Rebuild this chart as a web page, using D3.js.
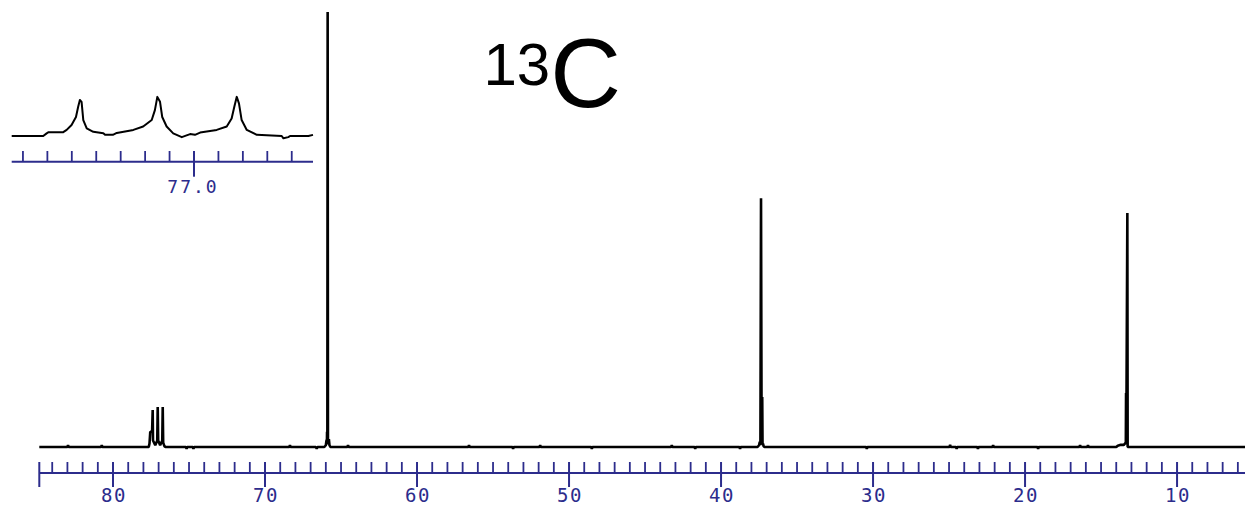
<!DOCTYPE html>
<html>
<head>
<meta charset="utf-8">
<script src="https://cdn.jsdelivr.net/npm/d3@7"></script>
<style>
  html, body { margin: 0; padding: 0; background: #fff; }
  svg { display: block; }
</style>
</head>
<body>
<svg id="chart" width="1245" height="508"></svg>
<script>
// ---------- DATA ----------
// main spectrum: [ppm, relative intensity (0 = baseline, 100 = tallest peak)]
const spectrumPpm = [84.85,
  83.0, 82.96, 82.92, 80.78, 80.74, 80.70,
  77.65, 77.6, 77.55, 77.43, 77.39, 77.37, 77.22, 77.09, 77.06, 77.03, 76.9, 76.76, 76.73, 76.7, 76.62, 76.55,
  75.2, 75.16, 75.12, 74.75, 74.71, 74.67,
  68.4, 68.36, 68.32, 66.65, 66.6, 66.55,
  66.1, 66.0, 65.95, 65.93, 65.92, 65.9, 65.88, 65.86, 65.8, 65.76, 65.7,
  64.58, 64.54, 64.5, 56.62, 56.58, 56.54, 53.72, 53.68, 53.64, 51.94, 51.9, 51.86,
  48.54, 48.5, 48.46, 43.28, 43.24, 43.2, 41.74, 41.7, 41.66, 38.79, 38.75, 38.71,
  37.6, 37.5, 37.45, 37.41, 37.37, 37.33, 37.29, 37.27, 37.24, 37.2, 37.15,
  30.45, 30.41, 30.37, 24.97, 24.93, 24.89, 24.54, 24.5, 24.46, 23.14, 23.1, 23.06,
  22.14, 22.1, 22.06, 19.18, 19.14, 19.1, 16.42, 16.38, 16.34, 15.9, 15.86, 15.82,
  14.0, 13.9, 13.7, 13.5, 13.4, 13.37, 13.355, 13.34, 13.27, 13.25, 13.1,
  5.53];
const spectrumInt = [0,
  0, 0.4, 0, 0, 0.4, 0,
  0, 0.8, 3.5, 3.5, 8.5, 1.5, 0.4, 1.5, 9.2, 1.5, 0.4, 1.5, 9.2, 1.0, 0.2, 0,
  0, -0.4, 0, 0, -0.4, 0,
  0, 0.4, 0, 0, -0.4, 0,
  0, 0.4, 1.6, 0.6, 3.5, 0.8, 100, 1.8, 1.8, 0.4, 0,
  0, 0.4, 0, 0, 0.4, 0, 0, -0.4, 0, 0, 0.4, 0,
  0, -0.4, 0, 0, 0.4, 0, 0, -0.4, 0, 0, -0.4, 0,
  0, 0.4, 1.2, 0.4, 57.2, 0.6, 11.5, 0.6, 0.8, 0.2, 0,
  0, -0.4, 0, 0, 0.5, 0, 0, -0.4, 0, 0, -0.4, 0,
  0, 0.4, 0, 0, -0.4, 0, 0, 0.4, 0, 0, 0.4, 0,
  0, 0.3, 0.5, 0.5, 0.9, 1.1, 12.4, 0.6, 53.8, 0, 0,
  0];

// inset (CDCl3 triplet expansion): [ppm, relative intensity 0..1]
const insetPpm = [77.746, 77.617, 77.603, 77.595, 77.535, 77.521, 77.501, 77.483, 77.474, 77.467, 77.460, 77.453,
  77.439, 77.412, 77.371, 77.364, 77.332, 77.316, 77.248, 77.208, 77.173, 77.160, 77.150, 77.139,
  77.130, 77.112, 77.085, 77.050, 77.016, 76.996, 76.975, 76.907, 76.866, 76.846, 76.835, 76.825,
  76.816, 76.805, 76.784, 76.743, 76.641, 76.634, 76.614, 76.607, 76.532, 76.513];
const insetInt = [0, 0, 0.07, 0.1, 0.1, 0.16, 0.29, 0.5, 0.77, 0.95, 0.9, 0.42,
  0.2, 0.11, 0.07, 0.03, 0.03, 0.08, 0.16, 0.25, 0.42, 0.68, 1.03, 0.9,
  0.5, 0.25, 0.07, -0.03, 0.05, 0.03, 0.09, 0.16, 0.25, 0.46, 0.77, 1.03,
  0.86, 0.42, 0.16, 0.03, 0, -0.06, -0.03, 0, 0, 0.03];

// axis ticks
const mainMajorTicks = [80, 70, 60, 50, 40, 30, 20, 10];
const mainMinorTicks = [84, 83, 82, 81, 79, 78, 77, 76, 75, 74, 73, 72, 71, 69, 68, 67, 66, 65, 64, 63, 62, 61,
  59, 58, 57, 56, 55, 54, 53, 52, 51, 49, 48, 47, 46, 45, 44, 43, 42, 41, 39, 38, 37, 36, 35, 34, 33, 32, 31,
  29, 28, 27, 26, 25, 24, 23, 22, 21, 19, 18, 17, 16, 15, 14, 13, 12, 11, 9, 8, 7, 6];
const mainTickLabels = ["80", "70", "60", "50", "40", "30", "20", "10"];
const insetMinorTicks = [77.7, 77.6, 77.5, 77.4, 77.3, 77.2, 77.1, 76.9, 76.8, 76.7, 76.6];
const insetMajorTicks = [77.0];
const insetTickLabels = ["77.0"];
const titleParts = ["13", "C"];

// ---------- DRAW ----------
const svg = d3.select("#chart");
const AXIS_BLUE = "#2c2c8c";
const MONO = "'DejaVu Sans Mono', 'Liberation Mono', monospace";

svg.append("rect").attr("width", 1245).attr("height", 508).attr("fill", "#fff");

// main scales
const x = d3.scaleLinear().domain([84.85, 5.53]).range([39.3, 1245]);
const y = d3.scaleLinear().domain([0, 100]).range([447, 12]);

const mainData = spectrumPpm.map((p, i) => [p, spectrumInt[i]]);
svg.append("path")
  .datum(mainData)
  .attr("fill", "none")
  .attr("stroke", "#000")
  .attr("stroke-width", 2.6)
  .attr("stroke-linejoin", "bevel")
  .attr("d", d3.line().x(d => x(d[0])).y(d => y(d[1])));

// main axis
const axisY = 473;
const gAx = svg.append("g");
gAx.append("line")
  .attr("x1", x.range()[0]).attr("x2", x.range()[1])
  .attr("y1", axisY).attr("y2", axisY)
  .attr("stroke", AXIS_BLUE).attr("stroke-width", 2);
gAx.append("line")
  .attr("x1", x.range()[0]).attr("x2", x.range()[0])
  .attr("y1", 462).attr("y2", 487)
  .attr("stroke", AXIS_BLUE).attr("stroke-width", 2);
gAx.selectAll("line.minor").data(mainMinorTicks).join("line")
  .attr("class", "minor")
  .attr("x1", d => x(d)).attr("x2", d => x(d))
  .attr("y1", 462).attr("y2", axisY)
  .attr("stroke", AXIS_BLUE).attr("stroke-width", 1.8);
gAx.selectAll("line.major").data(mainMajorTicks).join("line")
  .attr("class", "major")
  .attr("x1", d => x(d)).attr("x2", d => x(d))
  .attr("y1", 462).attr("y2", 487)
  .attr("stroke", AXIS_BLUE).attr("stroke-width", 2);
gAx.selectAll("text.lab").data(mainMajorTicks).join("text")
  .attr("class", "lab")
  .attr("x", d => x(d) + 1)
  .attr("y", 502)
  .attr("text-anchor", "middle")
  .attr("font-family", MONO)
  .attr("font-size", 19)
  .attr("letter-spacing", 1.5)
  .attr("fill", AXIS_BLUE)
  .text((d, i) => mainTickLabels[i]);

// inset
const xi = d3.scaleLinear().domain([77.746, 76.513]).range([11.7, 313]);
const yi = d3.scaleLinear().domain([0, 1]).range([136, 98]);
const insetData = insetPpm.map((p, i) => [p, insetInt[i]]);
svg.append("path")
  .datum(insetData)
  .attr("fill", "none")
  .attr("stroke", "#000")
  .attr("stroke-width", 2)
  .attr("stroke-linejoin", "round")
  .attr("d", d3.line().x(d => xi(d[0])).y(d => yi(d[1])));

const insetAxisY = 161.7;
const gIn = svg.append("g");
gIn.append("line")
  .attr("x1", xi.range()[0]).attr("x2", xi.range()[1])
  .attr("y1", insetAxisY).attr("y2", insetAxisY)
  .attr("stroke", AXIS_BLUE).attr("stroke-width", 2);
gIn.selectAll("line.minor").data(insetMinorTicks).join("line")
  .attr("class", "minor")
  .attr("x1", d => xi(d)).attr("x2", d => xi(d))
  .attr("y1", 151).attr("y2", insetAxisY)
  .attr("stroke", AXIS_BLUE).attr("stroke-width", 1.8);
gIn.selectAll("line.major").data(insetMajorTicks).join("line")
  .attr("class", "major")
  .attr("x1", d => xi(d)).attr("x2", d => xi(d))
  .attr("y1", 151).attr("y2", 176.7)
  .attr("stroke", AXIS_BLUE).attr("stroke-width", 2);
gIn.selectAll("text.lab").data(insetMajorTicks).join("text")
  .attr("class", "lab")
  .attr("x", d => xi(d) - 1)
  .attr("y", 193)
  .attr("text-anchor", "middle")
  .attr("font-family", MONO)
  .attr("font-size", 18)
  .attr("letter-spacing", 2)
  .attr("fill", AXIS_BLUE)
  .text((d, i) => insetTickLabels[i]);

// title
const title = svg.append("text")
  .attr("font-family", "'Liberation Sans', Arial, sans-serif")
  .attr("fill", "#000");
title.append("tspan").attr("x", 483.5).attr("y", 85).attr("font-size", 60).text(titleParts[0]);
title.append("tspan").attr("y", 106.5).attr("font-size", 98).text(titleParts[1]);
</script>
</body>
</html>
